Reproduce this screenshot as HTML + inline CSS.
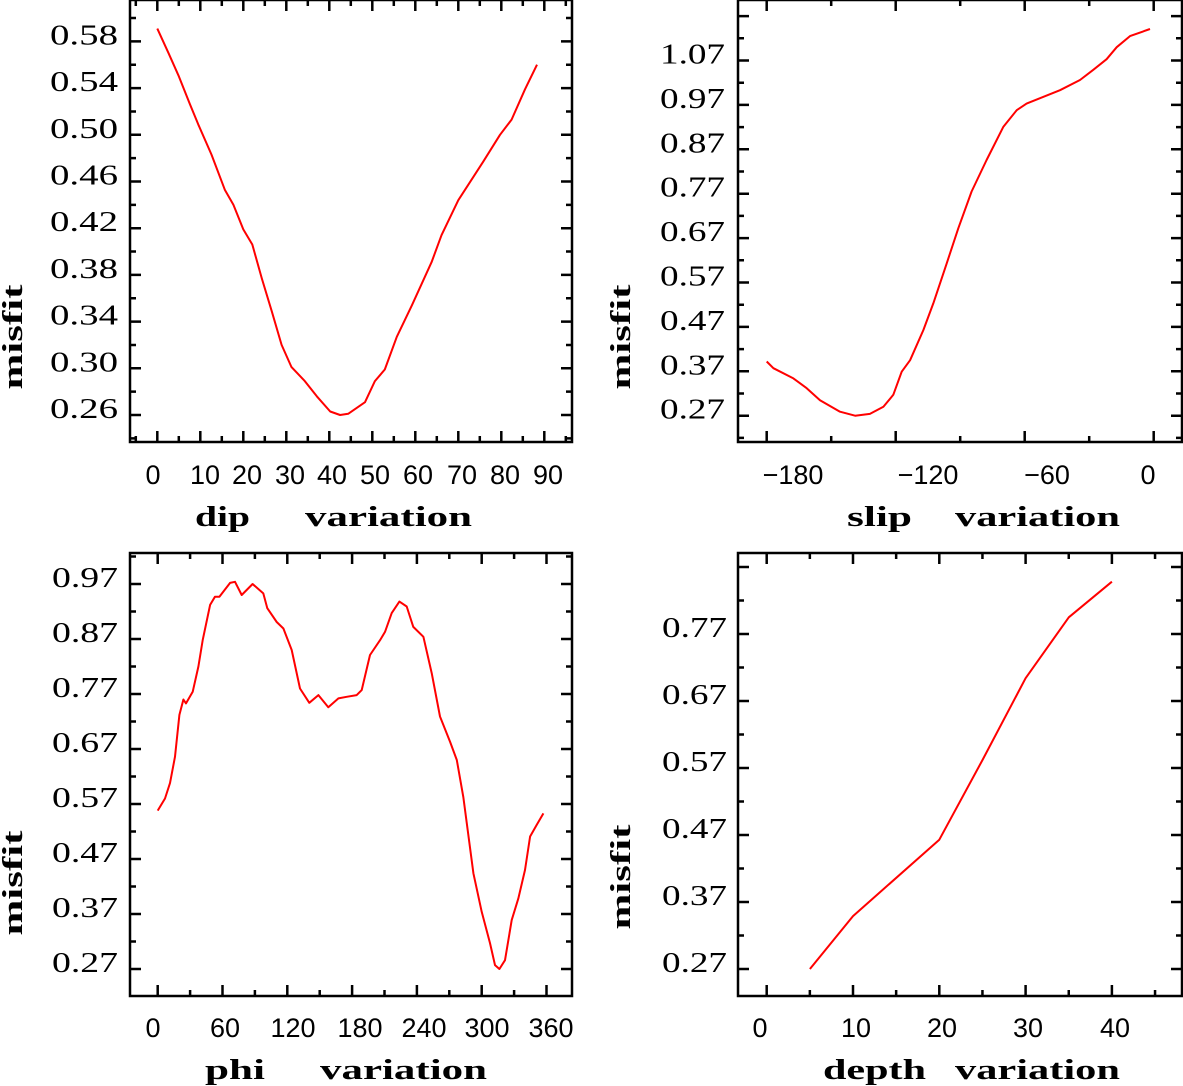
<!DOCTYPE html>
<html><head><meta charset="utf-8"><style>
html,body{margin:0;padding:0;background:#fff;}
svg{display:block;}
.tl{font-family:"Liberation Sans",sans-serif;font-size:27px;fill:#000;}
.yl{font-family:"Liberation Serif",serif;font-size:28px;fill:#000;}
.tt{font-family:"Liberation Serif",serif;font-size:28px;font-weight:bold;fill:#000;}
</style></head><body>
<svg id="fig" width="1183" height="1086" viewBox="0 0 1183 1086" xmlns="http://www.w3.org/2000/svg"></svg>
<script>
// Panel 1: dip
const dipX=[0,2.6,4.9,7.6,9.5,12.6,15.7,17.7,20,22.1,24.3,26.6,28.9,31.2,34.3,37.1,40.2,42.5,44.4,48.3,50.6,52.9,55.7,59.2,63.8,66.1,70,75.8,79.7,82.4,85.5,88.3];
const dipY=[0.591,0.570,0.551,0.526,0.509,0.483,0.453,0.440,0.419,0.406,0.377,0.349,0.320,0.301,0.289,0.276,0.263,0.260,0.261,0.271,0.289,0.299,0.327,0.354,0.391,0.414,0.444,0.477,0.500,0.513,0.539,0.560];
const dipXTicks=["0","10","20","30","40","50","60","70","80","90"];
const dipYTicks=["0.26","0.30","0.34","0.38","0.42","0.46","0.50","0.54","0.58"];
// Panel 2: slip
const slipX=[-180,-176.9,-167.6,-161.4,-155.2,-145.9,-138.9,-132,-125.7,-121.1,-117.2,-113.3,-107.1,-102.5,-96.3,-90.9,-84.7,-77.7,-69.9,-63.7,-59.1,-43.6,-34.3,-28.1,-21.9,-17.2,-11,-1.7];
const slipY=[0.392,0.377,0.354,0.332,0.305,0.279,0.270,0.274,0.290,0.317,0.369,0.395,0.463,0.523,0.613,0.692,0.775,0.846,0.921,0.958,0.973,1.003,1.026,1.049,1.073,1.100,1.125,1.141];
const slipXTicks=["\u2212180","\u2212120","\u221260","0"];
const slipYTicks=["0.27","0.37","0.47","0.57","0.67","0.77","0.87","0.97","1.07"];
// Panel 3: phi
const phiX=[0,6.8,11.4,16,20.1,23.8,26.2,32.4,37.7,41.7,48.5,53.1,57.1,67,71.6,77.8,87.9,97.8,101.5,110.2,116.4,124.1,131.8,140.4,148.8,158,167.3,175,184.3,188.9,196.6,205.9,210.5,216.7,223.8,230.6,236.7,246,253.7,261.4,270.7,276.9,283,292.3,300,307.7,312.3,316.4,321.6,327.8,333.9,340.1,344.8,350.9,357.1];
const phiY=[0.558,0.580,0.608,0.656,0.732,0.760,0.753,0.774,0.820,0.868,0.932,0.947,0.947,0.972,0.974,0.950,0.970,0.953,0.926,0.901,0.889,0.850,0.780,0.754,0.768,0.746,0.762,0.765,0.768,0.777,0.841,0.868,0.883,0.917,0.938,0.929,0.892,0.874,0.808,0.729,0.683,0.650,0.583,0.444,0.374,0.317,0.277,0.270,0.286,0.359,0.398,0.450,0.511,0.532,0.553];
const phiXTicks=["0","60","120","180","240","300","360"];
const phiYTicks=["0.27","0.37","0.47","0.57","0.67","0.77","0.87","0.97"];
// Panel 4: depth
const depthX=[5,10,20,25,30,35,40];
const depthY=[0.27,0.349,0.463,0.582,0.704,0.795,0.848];
const depthXTicks=["0","10","20","30","40"];
const depthYTicks=["0.27","0.37","0.47","0.57","0.67","0.77"];

const NS="http://www.w3.org/2000/svg";
const svg=document.getElementById('fig');
function mk(tag,attrs,parent){const e=document.createElementNS(NS,tag);for(const k in attrs)e.setAttribute(k,attrs[k]);(parent||svg).appendChild(e);return e;}

function panel(cfg){
  const g=mk('g',{});
  
  
  const L=cfg.box[0],T=cfg.box[1],R=cfg.box[2],B=cfg.box[3];
  const sx=v=>cfg.x0px+(v-cfg.x0)*cfg.xs;
  const sy=v=>cfg.y0px-(v-cfg.y0)*cfg.ys;
  const frame=mk('rect',{x:L,y:T,width:R-L,height:B-T,fill:'none',stroke:'#000','stroke-width':2.5},g);
  
  
  let d='';
  for(let v=cfg.xmin;v<=cfg.xmax+1e-9;v+=cfg.xminor){
    const px=sx(v);if(px<L+1||px>R-1)continue;
    const major=Math.abs(((v-cfg.x0)/cfg.xmajor)-Math.round((v-cfg.x0)/cfg.xmajor))<1e-6;
    const len=major?11:6;
    d+=`M${px} ${B}V${B-len}M${px} ${T}V${T+len}`;
  }
  for(let v=cfg.ymin;v<=cfg.ymax+1e-9;v+=cfg.yminor){
    const py=sy(v);if(py<T+1||py>B-1)continue;
    const major=Math.abs(((v-cfg.y0)/cfg.ymajor)-Math.round((v-cfg.y0)/cfg.ymajor))<1e-6;
    const len=major?11:6;
    d+=`M${L} ${py}H${L+len}M${R} ${py}H${R-len}`;
  }
  const tk=mk('path',{d:d,stroke:'#000','stroke-width':2.5,fill:'none'},g);
  
  
  cfg.xTicks.forEach((t,i)=>{
    const e=mk('text',{x:cfg.xLabelPos[i],y:cfg.xLabY,'text-anchor':'middle',class:'tl'},g);
    e.textContent=t;
    
    
  });
  cfg.yTicks.forEach((t,i)=>{
    const v=parseFloat(t);
    const e=mk('text',{x:cfg.yLabR,y:sy(v)+3,'text-anchor':'end',class:'yl',textLength:cfg.yLabW,lengthAdjust:'spacingAndGlyphs'},g);
    e.textContent=t;
    
    
  });
  const t1=mk('text',{x:cfg.t1[0],y:cfg.tY,class:'tt',textLength:cfg.t1[1],lengthAdjust:'spacingAndGlyphs'},g);
  t1.textContent=cfg.name;
  
  
  const t2=mk('text',{x:cfg.t2[0],y:cfg.tY,class:'tt',textLength:cfg.t2[1],lengthAdjust:'spacingAndGlyphs'},g);
  t2.textContent='variation';
  
  
  const yt=mk('text',{x:0,y:0,class:'tt','text-anchor':'middle',textLength:105,lengthAdjust:'spacingAndGlyphs',transform:`translate(${cfg.ytitle[0]},${cfg.ytitle[1]}) rotate(-90)`},g);
  yt.textContent='misfit';
  
  
  let ld='';
  cfg.X.forEach((v,i)=>{ld+=(i?'L':'M')+sx(v).toFixed(1)+' '+sy(cfg.Y[i]).toFixed(1);});
  const ln=mk('path',{d:ld,stroke:'#ff0000','stroke-width':2,fill:'none','stroke-linejoin':'round'},g);
  
  
}

panel({name:'dip',box:[130,0,572,442],x0:0,x0px:157.3,xs:4.3,xmin:-5,xmax:100,xmajor:10,xminor:5,
  y0:0.26,y0px:415,ys:1167.5,ymin:0.22,ymax:0.62,ymajor:0.04,yminor:0.02,
  xTicks:dipXTicks,xLabelPos:[153,205,247,290,332,375,418,462,505,548],xLabY:484,
  yTicks:dipYTicks,yLabR:118,yLabW:68,t1:[195,55],t2:[305,167],tY:526,ytitle:[22,337],X:dipX,Y:dipY});
panel({name:'slip',box:[738,0,1182,442],x0:-180,x0px:766.7,xs:2.15,xmin:-210,xmax:30,xmajor:60,xminor:30,
  y0:0.27,y0px:415.7,ys:444,ymin:0.17,ymax:1.27,ymajor:0.1,yminor:0.05,
  xTicks:slipXTicks,xLabelPos:[793,928,1047,1148],xLabY:484,
  yTicks:slipYTicks,yLabR:725,yLabW:65,t1:[847,65],t2:[955,165],tY:526,ytitle:[630,337],X:slipX,Y:slipY});
panel({name:'phi',box:[130,553,572,996],x0:0,x0px:157.7,xs:1.08,xmin:-30,xmax:390,xmajor:60,xminor:30,
  y0:0.27,y0px:969,ys:550,ymin:0.17,ymax:1.07,ymajor:0.1,yminor:0.05,
  xTicks:phiXTicks,xLabelPos:[153,225,293,360,424,487,551],xLabY:1037,
  yTicks:phiYTicks,yLabR:118,yLabW:66,t1:[205,60],t2:[320,167],tY:1079,ytitle:[22,883],X:phiX,Y:phiY});
panel({name:'depth',box:[738,553,1182,996],x0:0,x0px:766.7,xs:8.63,xmin:-5,xmax:50,xmajor:10,xminor:5,
  y0:0.27,y0px:969,ys:670,ymin:0.17,ymax:0.97,ymajor:0.1,yminor:0.05,
  xTicks:depthXTicks,xLabelPos:[760,856,942,1028,1115],xLabY:1037,
  yTicks:depthYTicks,yLabR:727,yLabW:65,t1:[823,103],t2:[955,165],tY:1079,ytitle:[630,877],X:depthX,Y:depthY});
</script>
</body></html>
